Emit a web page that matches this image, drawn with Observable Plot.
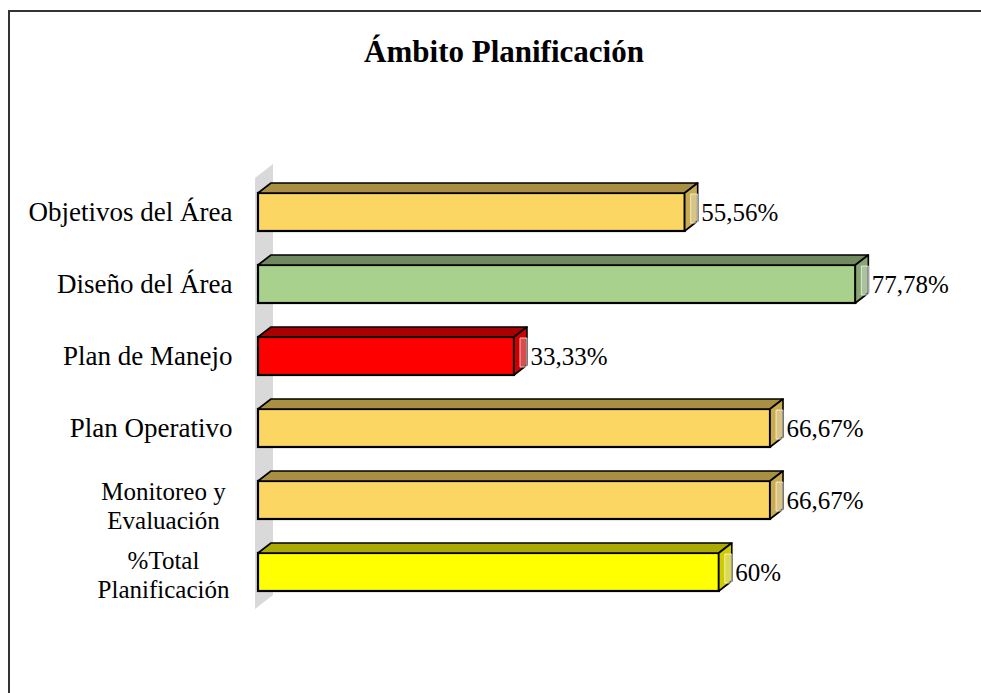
<!DOCTYPE html>
<html><head><meta charset="utf-8">
<script src="https://cdn.jsdelivr.net/npm/d3@7"></script>
<script src="https://cdn.jsdelivr.net/npm/@observablehq/plot@0.6"></script>
<style>
body{margin:0;background:#fff;}
#wrap{position:relative;width:981px;height:693px;overflow:hidden;}
#frame{position:absolute;left:8px;top:10px;width:1200px;height:1000px;border-left:2px solid #333;border-top:2px solid #333;}
#title{position:absolute;left:0;width:1008px;top:37px;text-align:center;font:bold 31px/30px "Liberation Serif";color:#000;}
#chart{position:absolute;left:0;top:0;}
</style></head><body>
<div id="wrap"><div id="frame"></div><div id="chart"></div><div id="title">Ámbito Planificación</div></div>
<script>
const categories = ["Objetivos del Área", "Diseño del Área", "Plan de Manejo", "Plan Operativo", "Monitoreo y\nEvaluación", "%Total\nPlanificación"];
const values = [55.56, 77.78, 33.33, 66.67, 66.67, 60];
const frontColors = ["#FCD663", "#A9D18E", "#FF0000", "#FCD663", "#FCD663", "#FFFF00"];
const topColors = ["#A88F42", "#71895F", "#AA0000", "#A88F42", "#A88F42", "#AAAA00"];
const sideColors = ["#C9AB50", "#88A673", "#CC0000", "#C9AB50", "#C9AB50", "#CCCC00"];

const fmt = v => (Number.isInteger(v) ? String(v) : v.toFixed(2).replace(".", ",")) + "%";
const data = categories.map((c, i) => ({cat: c, value: values[i], front: frontColors[i]}));
const INSET = 17, DX = 13, DY = 10;

function wall(index, scales) {
  const x = scales.x, y = scales.y, bw = y.bandwidth();
  const x0 = x(0);
  const top = y(categories[0]), bottom = y(categories[categories.length - 1]) + bw;
  const g = d3.create("svg:g");
  g.append("polygon")
    .attr("points", [[x0 - 3, top + 2], [x0 + 15, top - 12], [x0 + 15, bottom - 13], [x0 - 3, bottom + 1]].join(" "))
    .attr("fill", "#D9D9D9");
  return g.node();
}

function faces(index, scales) {
  const x = scales.x, y = scales.y, bw = y.bandwidth();
  const x0 = x(0);
  const g = d3.create("svg:g").attr("stroke", "#000").attr("stroke-width", 1.6).attr("stroke-linejoin", "round");
  categories.forEach((c, i) => {
    const xv = x(values[i]);
    const yt = y(c) + INSET, yb = y(c) + bw - INSET;
    g.append("polygon")
      .attr("points", [[x0, yt], [xv, yt], [xv + DX, yt - DY], [x0 + DX, yt - DY]].join(" "))
      .attr("fill", topColors[i]);
    g.append("polygon")
      .attr("points", [[xv, yt], [xv + DX, yt - DY], [xv + DX, yb - DY], [xv, yb]].join(" "))
      .attr("fill", sideColors[i]);
    g.append("rect")
      .attr("x", xv + 6).attr("y", yt + 1).attr("width", 7).attr("height", yb - yt - 9)
      .attr("fill", "#fff").attr("fill-opacity", 0.3)
      .attr("stroke", "#fff").attr("stroke-opacity", 0.7).attr("stroke-width", 1);
  });
  return g.node();
}

const single = data.filter(d => !d.cat.includes("\n"));
const multi = data.filter(d => d.cat.includes("\n"));

const plot = Plot.plot({
  width: 981,
  height: 693,
  marginLeft: 258,
  marginRight: 31.8,
  marginTop: 173.5,
  marginBottom: 82,
  x: {domain: [0, 90], axis: null},
  y: {domain: categories, padding: 0, axis: null},
  color: {type: "identity"},
  style: {fontFamily: "Liberation Serif", background: "transparent", overflow: "visible", color: "#000"},
  marks: [
    wall,
    Plot.barX(data, {x: "value", y: "cat", fill: "front", stroke: "#000", strokeWidth: 2.2, insetTop: INSET, insetBottom: INSET}),
    faces,
    Plot.text(single, {y: "cat", text: "cat", frameAnchor: "left", textAnchor: "end", dx: -26, fontSize: 27, fill: "#000"}),
    Plot.text(multi.slice(0, 1), {y: "cat", text: "cat", frameAnchor: "left", textAnchor: "middle", dx: -95, dy: 5, fontSize: 25, lineHeight: 1.15, fill: "#000"}),
    Plot.text(multi.slice(1), {y: "cat", text: "cat", frameAnchor: "left", textAnchor: "middle", dx: -95, dy: 2, fontSize: 25, lineHeight: 1.15, fill: "#000"}),
    Plot.text(data, {x: "value", y: "cat", text: d => fmt(d.value), textAnchor: "start", dx: 16, fontSize: 25, fill: "#000"})
  ]
});
document.getElementById("chart").appendChild(plot);
</script>
</body></html>
